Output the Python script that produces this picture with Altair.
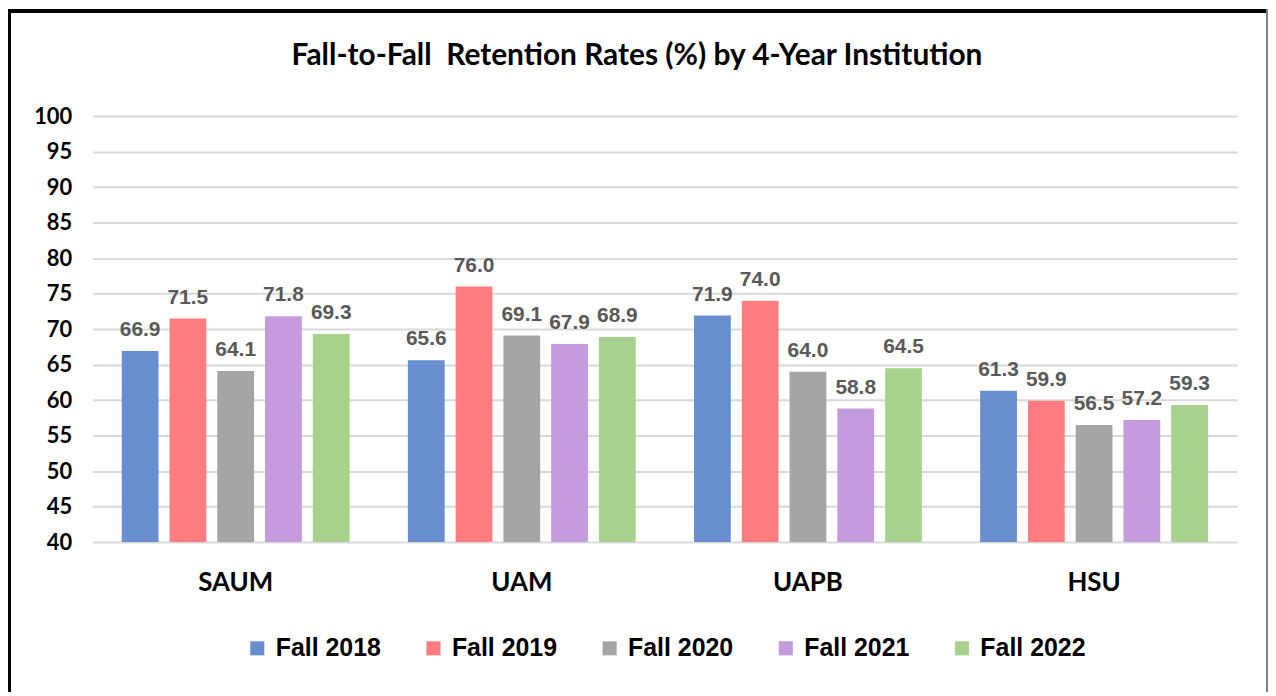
import altair as alt
import pandas as pd

institutions = ["SAUM", "UAM", "UAPB", "HSU"]
terms = ["Fall 2018", "Fall 2019", "Fall 2020", "Fall 2021", "Fall 2022"]
rates = {
    "SAUM": [66.9, 71.5, 64.1, 71.8, 69.3],
    "UAM": [65.6, 76.0, 69.1, 67.9, 68.9],
    "UAPB": [71.9, 74.0, 64.0, 58.8, 64.5],
    "HSU": [61.3, 59.9, 56.5, 57.2, 59.3],
}
colors = ["#698ED0", "#FF7C80", "#A5A5A5", "#C49CDE", "#A9D18E"]
y_ticks = list(range(40, 101, 5))
title_text = "Fall-to-Fall\u00a0 Retention Rates (%) by 4-Year Institution"

rows = []
for inst in institutions:
    for t, v in zip(terms, rates[inst]):
        rows.append({"Institution": inst, "Term": t, "Rate": v})
df = pd.DataFrame(rows)

W, H = 1150, 428
PL, PT, PR, PB = 85, 107, 31, 150

x_enc = alt.X("Institution:N", sort=institutions,
              scale=alt.Scale(paddingInner=0, paddingOuter=0),
              axis=alt.Axis(title=None, labelAngle=0, domain=False, ticks=False,
                            labelFont="Lato", labelFontSize=26, labelFontWeight="bold",
                            labelColor="#000000", labelPadding=28))
xo_enc = alt.XOffset("Term:N", sort=terms,
                     scale=alt.Scale(paddingInner=0.23, paddingOuter=0.61))
y_enc = alt.Y("Rate:Q",
              scale=alt.Scale(domain=[40, 100], nice=False, zero=False),
              axis=alt.Axis(title=None, values=y_ticks, domain=False, ticks=False,
                            grid=True, gridColor="#D9D9D9", gridWidth=2,
                            labelOverlap=False,
                            labelFont="Lato", labelFontSize=22, labelFontWeight="bold",
                            labelColor="#000000", labelPadding=21))

bars = alt.Chart(df).mark_bar(clip=True).encode(
    x=x_enc,
    xOffset=xo_enc,
    y=y_enc,
    y2=alt.datum(40),
    color=alt.Color("Term:N", sort=terms,
                    scale=alt.Scale(domain=terms, range=colors),
                    legend=alt.Legend(title=None, orient="none", direction="horizontal",
                                      legendX=153, legendY=522,
                                      symbolType="square", symbolSize=200,
                                      symbolStrokeWidth=0, symbolOpacity=1,
                                      labelFont="Liberation Sans", labelFontSize=25,
                                      labelFontWeight="bold", labelColor="#000000",
                                      labelOffset=6, columnPadding=40,
                                      labelLimit=300)),
)

labels = alt.Chart(df).mark_text(
    baseline="alphabetic", dy=-15, font="Liberation Sans", fontSize=21,
    fontWeight="bold", color="#595959"
).encode(
    x=alt.X("Institution:N", sort=institutions),
    xOffset=alt.XOffset("Term:N", sort=terms),
    y=y_enc,
    text=alt.Text("Rate:Q", format=".1f"),
)

title = alt.Chart(pd.DataFrame({"t": [title_text]})).mark_text(
    font="Lato", fontSize=30, fontWeight="bold", color="#000000",
    align="center", baseline="middle"
).encode(x=alt.value(547), y=alt.value(-60), text="t:N")

frame_left = alt.Chart(df).mark_rule(color="#000000", strokeWidth=3).encode(
    x=alt.value(-PL + 1.5), y=alt.value(-PT), y2=alt.value(H + PB))
frame_top = alt.Chart(df).mark_rule(color="#000000", strokeWidth=3).encode(
    x=alt.value(-PL), x2=alt.value(W + PR), y=alt.value(-PT + 1.5))
frame_right = alt.Chart(df).mark_rule(color="#808080", strokeWidth=1.5).encode(
    x=alt.value(W + PR - 1), y=alt.value(-PT), y2=alt.value(H + PB))

chart = alt.layer(bars, labels, title, frame_left, frame_top, frame_right).properties(
    width=W, height=H,
    autosize=alt.AutoSizeParams(type="none"),
    padding={"left": PL, "top": PT, "right": PR, "bottom": PB},
).configure_view(stroke=None)

chart.save("out.html", embed_options={"renderer": "svg", "actions": False})
